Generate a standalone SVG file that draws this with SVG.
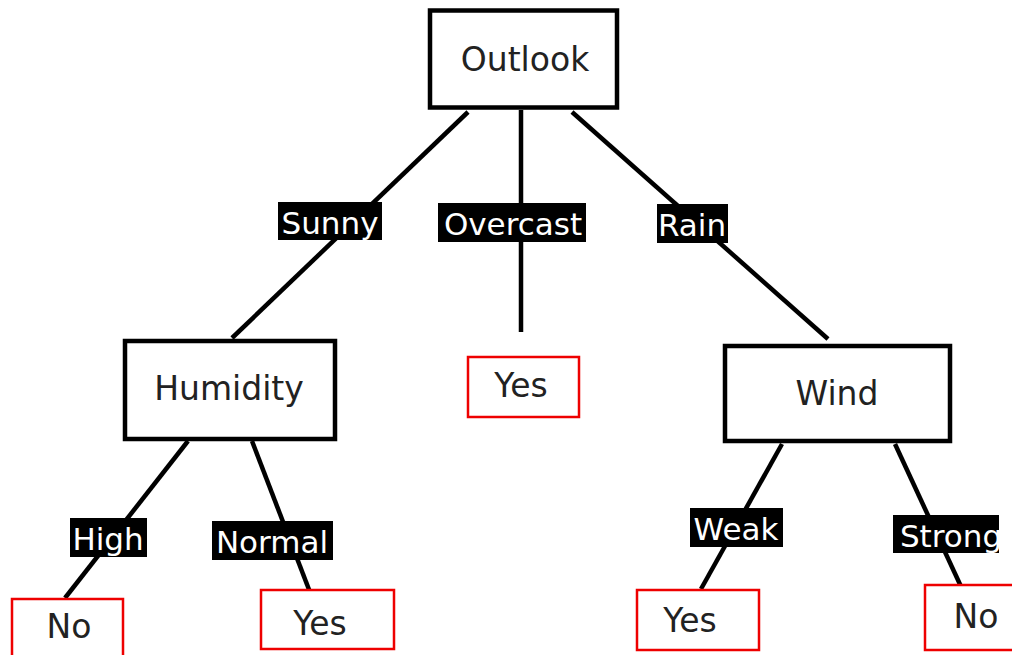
<svg xmlns="http://www.w3.org/2000/svg" width="1012" height="655" viewBox="0 0 1012 655">
<style>
.node{fill:#fff;stroke:#000;stroke-width:4.5}
.leaf{fill:#fff;stroke:#e00;stroke-width:2.5}
.t{font-family:"DejaVu Sans",sans-serif;font-size:33px;fill:#222;text-anchor:middle}
.lb{fill:#000}
.lt{font-family:"DejaVu Sans",sans-serif;font-size:31px;fill:#fff;text-anchor:middle}
.e{stroke:#000;stroke-width:4.5;fill:none}
</style>
<defs>
<clipPath id="cr"><rect x="0" y="0" width="999" height="655"/></clipPath>
</defs>
<rect width="1012" height="655" fill="#fff"/>
<g id="connectors">
<line class="e" x1="468" y1="112" x2="232" y2="338"/>
<line class="e" x1="521" y1="110" x2="521" y2="332"/>
<line class="e" x1="572" y1="112" x2="828" y2="339"/>
<line class="e" x1="188" y1="441" x2="65" y2="598"/>
<line class="e" x1="252" y1="441" x2="313" y2="600"/>
<line class="e" x1="782" y1="444" x2="701" y2="589"/>
<line class="e" x1="895" y1="444" x2="964" y2="593"/>
</g>
<g id="label-sunny"><rect class="lb" x="278" y="202" width="104" height="38"/><text class="lt" x="330" y="234">Sunny</text></g>
<g id="label-overcast"><rect class="lb" x="438" y="203" width="148" height="39"/><text class="lt" x="513" y="235">Overcast</text></g>
<g id="label-rain"><rect class="lb" x="657" y="204" width="71" height="39"/><text class="lt" x="692" y="236">Rain</text></g>
<g id="label-high"><rect class="lb" x="70" y="518" width="77" height="39"/><text class="lt" x="108" y="550">High</text></g>
<g id="label-normal"><rect class="lb" x="212" y="521" width="121" height="39"/><text class="lt" x="272" y="553">Normal</text></g>
<g id="label-weak"><rect class="lb" x="690" y="508" width="93" height="39"/><text class="lt" x="736" y="540">Weak</text></g>
<g id="label-strong" clip-path="url(#cr)"><rect class="lb" x="893" y="515" width="120" height="38"/><text class="lt" x="951" y="547">Strong</text></g>
<g id="node-outlook"><rect class="node" x="430" y="10.5" width="187" height="97"/><text class="t" x="525" y="71">Outlook</text></g>
<g id="node-humidity"><rect class="node" x="125" y="341" width="210" height="98"/><text class="t" x="229" y="400">Humidity</text></g>
<g id="node-wind"><rect class="node" x="725" y="346" width="225" height="95"/><text class="t" x="837" y="405">Wind</text></g>
<g id="leaf-overcast-yes"><rect class="leaf" x="468" y="357" width="111" height="60"/><text class="t" x="521" y="397">Yes</text></g>
<g id="leaf-high-no"><rect class="leaf" x="12" y="599" width="111" height="70"/><text class="t" x="69" y="638">No</text></g>
<g id="leaf-normal-yes"><rect class="leaf" x="261" y="590" width="133" height="59"/><text class="t" x="320" y="635">Yes</text></g>
<g id="leaf-weak-yes"><rect class="leaf" x="637" y="590" width="122" height="60"/><text class="t" x="690" y="632">Yes</text></g>
<g id="leaf-strong-no"><rect class="leaf" x="925" y="585" width="100" height="65"/><text class="t" x="976" y="628" clip-path="url(#cr)">No</text></g>
</svg>
